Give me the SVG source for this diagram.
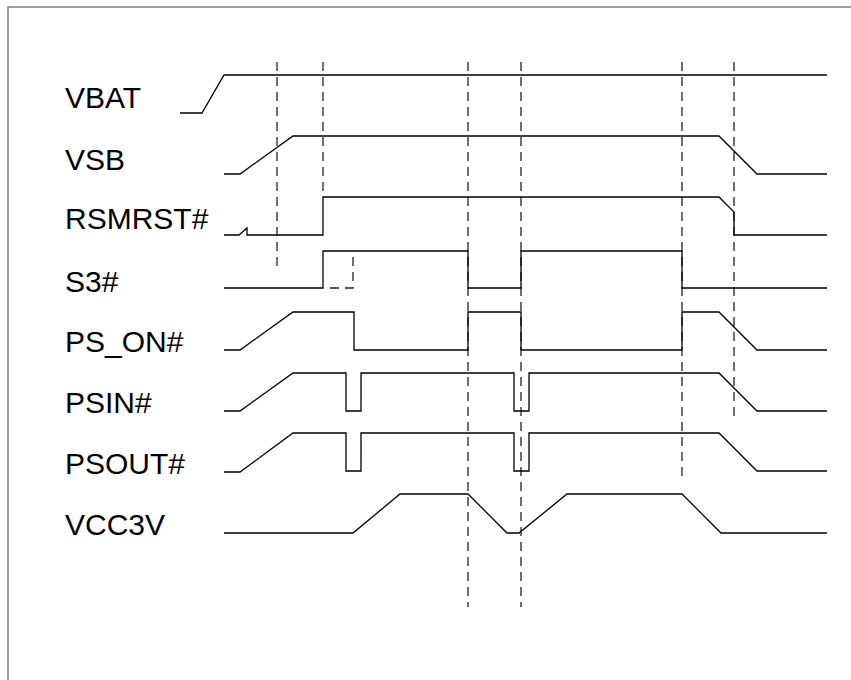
<svg xmlns="http://www.w3.org/2000/svg" width="851" height="680" viewBox="0 0 851 680">
<style>
.lbl{font-family:"Liberation Sans",Arial,sans-serif;font-size:30px;fill:#000}
.sig{fill:none;stroke:#000;stroke-width:1.3}
.dash{fill:none;stroke:#222;stroke-width:1.3;stroke-dasharray:9,6}
</style>
<rect width="851" height="680" fill="#fff"/>
<path d="M8,680 V7 H851" fill="none" stroke="#808080" stroke-width="1.5"/>
<g id="guides">
<line class="dash" x1="277" y1="62" x2="277" y2="268"/>
<line class="dash" x1="323" y1="62" x2="323" y2="197"/>
<line class="dash" x1="468" y1="62" x2="468" y2="607"/>
<line class="dash" x1="521" y1="62" x2="521" y2="607"/>
<line class="dash" x1="682" y1="62" x2="682" y2="480"/>
<line class="dash" x1="734" y1="62" x2="734" y2="422"/>
</g>
<g id="VBAT"><text class="lbl" x="65" y="108">VBAT</text>
<polyline class="sig" points="180,113 202,113 224,75 827,75"/></g>
<g id="VSB"><text class="lbl" x="65" y="170">VSB</text>
<polyline class="sig" points="224,174 240,174 293,136 719,136 757,174 827,174"/></g>
<g id="RSMRST"><text class="lbl" x="65" y="229">RSMRST#</text>
<polyline class="sig" points="224,235 239,235 247,228 247,235 323,235 323,197 719,197 734,212 734,235 827,235"/></g>
<g id="S3"><text class="lbl" x="65" y="292">S3#</text>
<polyline class="sig" points="224,288 323,288 323,251 468,251 468,288 521,288 521,251 682,251 682,288 827,288"/>
<polyline class="dash" points="330,288 353,288 353,251"/></g>
<g id="PS_ON"><text class="lbl" x="65" y="352">PS_ON#</text>
<polyline class="sig" points="224,350 240,350 293,312 354,312 354,350 468,350 468,312 521,312 521,350 682,350 682,312 719,312 757,350 827,350"/></g>
<g id="PSIN"><text class="lbl" x="65" y="413">PSIN#</text>
<polyline class="sig" points="224,411 240,411 293,373 346,373 346,411 361,411 361,373 514,373 514,411 529,411 529,373 719,373 757,411 827,411"/></g>
<g id="PSOUT"><text class="lbl" x="65" y="474">PSOUT#</text>
<polyline class="sig" points="224,472 240,472 293,433 346,433 346,471 361,471 361,433 514,433 514,471 529,471 529,433 719,433 757,471 827,471"/></g>
<g id="VCC3V"><text class="lbl" x="65" y="535">VCC3V</text>
<polyline class="sig" points="224,533 353,533 400,494 468,494 507,533 519,533 567,494 682,494 721,533 827,533"/></g>
</svg>
